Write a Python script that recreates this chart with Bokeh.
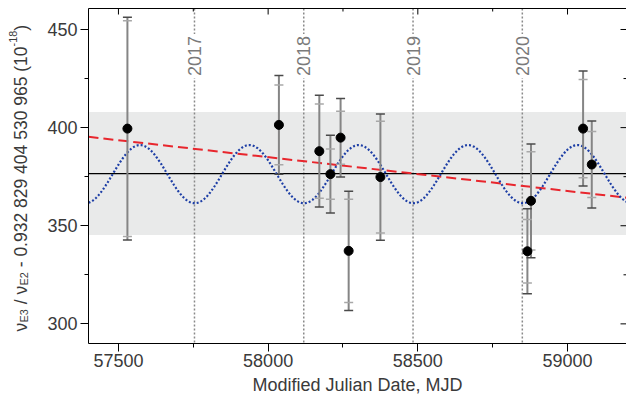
import numpy as np
from bokeh.plotting import figure
from bokeh.layouts import row
from bokeh.models import (Range1d, LinearAxis, FixedTicker, Label, Span,
                          BoxAnnotation, ColumnDataSource)
from bokeh.core.properties import value
from bokeh.embed import file_html
from bokeh.resources import INLINE

# ---------------- data ----------------
mjd = [57530, 58036, 58171, 58208, 58242, 58269, 58375, 58866, 58878, 59052, 59081]
ratio = [399.5, 401.4, 388.0, 376.3, 394.9, 337.2, 374.8, 337.0, 362.7, 399.5, 381.2]
err_total = [56.8, 25.2, 28.5, 19.8, 20.0, 30.4, 32.2, 21.6, 29.0, 29.3, 22.2]
err_stat = [55.0, 20.3, 24.0, 12.8, 13.5, 26.3, 28.5, 16.2, 25.0, 25.0, 16.8]

mean_value = 376.6
band_sigma = 31.35

trend_mjd = [57400, 59197]
trend_value = [395.3, 364.3]

# annual sinusoid model (fit curve shown dotted)
sine_center = 376.3
sine_amplitude = 14.8
sine_period = 365.25
sine_trough_mjd = 58120

year_mjd = [57754, 58119, 58484, 58849]
year_labels = ["2017", "2018", "2019", "2020"]

x_ticks = [57500, 58000, 58500, 59000]
x_minor = [57750, 58250, 58750]
y_ticks = [300, 350, 400, 450]
y_minor = [325, 375, 425]

# y-axis title pieces
ylabel_pieces = ["ν", "E3", "/", "ν", "E2", "- 0.932 829 404 530 965 (10", "-18", ")"]

# ---------------- layout constants ----------------
FONT = "Liberation Sans"
TXT = "#3a3a3a"
X0, X1 = 57400, 59197
Y0, Y1 = 290, 460.7
W, H = 626, 401
LW = 44                      # width of the strip holding the y title
BT, BB = 8, 58               # top / bottom borders (shared by both figures)
BL = 86 - LW                 # main figure left border
PX_Y = (H - BT - BB) / (Y1 - Y0)   # pixels per y unit

# ---------------- y title strip ----------------
FS = 17.5
scales = [1.0, 0.62, 1.0, 1.0, 0.62, 1.0, 0.62, 1.0]
shifts = [0.0, -0.22, 0.0, 0.0, -0.22, 0.0, 0.42, 0.0]
gaps = [0.0, 0.278, 0.278, 0.0, 0.278, 0.0, 0.0, 0.0]
adv = {"ν": 0.52, "E": 0.667, " ": 0.278, "/": 0.278, "-": 0.333, ".": 0.278,
       "(": 0.333, ")": 0.333}


def text_width(s, fs):
    return sum(adv.get(c, 0.556) for c in s) * fs


lx, ly, lsize = [], [], []
pos = 12.0             # title starts 12 px above the frame bottom
for txt, sc, sh, gp in zip(ylabel_pieces, scales, shifts, gaps):
    fs = FS * sc
    lx.append(20 - sh * FS)
    ly.append(Y0 + pos / PX_Y)
    lsize.append(f"{fs:.1f}px")
    pos += text_width(txt, fs) + gp * FS

ylab = figure(width=LW, height=H, output_backend="svg", toolbar_location=None,
              x_range=Range1d(0, LW), y_range=Range1d(Y0, Y1),
              x_axis_location=None, y_axis_location=None,
              min_border_left=0, min_border_right=0,
              min_border_top=BT, min_border_bottom=BB)
ylab.outline_line_color = None
ylab.grid.visible = False
ylab.background_fill_color = "white"
ylab.border_fill_color = "white"
ylab.text(x="x", y="y", text="t", text_font_size="fs",
          source=ColumnDataSource(dict(x=lx, y=ly, t=ylabel_pieces, fs=lsize)),
          angle=np.pi / 2, text_align="left", text_baseline="alphabetic",
          text_font=value(FONT), text_color=TXT)

# ---------------- main figure ----------------
p = figure(width=W - LW, height=H, output_backend="svg", toolbar_location=None,
           x_range=Range1d(X0, X1), y_range=Range1d(Y0, Y1),
           min_border_left=BL, min_border_right=0, min_border_top=BT,
           min_border_bottom=BB)
p.outline_line_color = None
p.xgrid.visible = False
p.ygrid.visible = False
p.background_fill_color = "white"
p.border_fill_color = "white"


def style_axis(ax, ticks, minor):
    ax.ticker = FixedTicker(ticks=ticks, minor_ticks=minor)
    ax.axis_line_color = "black"
    ax.axis_line_width = 1
    ax.major_tick_line_color = "black"
    ax.minor_tick_line_color = "black"
    ax.major_tick_in, ax.major_tick_out = 0, 8
    ax.minor_tick_in, ax.minor_tick_out = 0, 4
    ax.major_label_text_font = FONT
    ax.major_label_text_font_size = "18px"
    ax.major_label_text_color = TXT


xa = p.xaxis[0]
style_axis(xa, x_ticks, x_minor)
xa.major_label_standoff = 2
xa.axis_label = "Modified Julian Date, MJD"
xa.axis_label_text_font = FONT
xa.axis_label_text_font_size = "18px"
xa.axis_label_text_font_style = "normal"
xa.axis_label_text_color = TXT
xa.axis_label_standoff = 5

ya = p.yaxis[0]
style_axis(ya, y_ticks, y_minor)
ya.major_label_standoff = 3

# top frame line (no ticks / labels on the axis itself)
top = LinearAxis(ticker=FixedTicker(ticks=[]))
top.axis_line_color = "black"
top.major_tick_out = 0
top.major_tick_in = 0
top.minor_tick_out = 0
top.minor_tick_in = 0
top.major_label_standoff = 0
p.add_layout(top, "above")

# ---------------- background elements ----------------
p.add_layout(BoxAnnotation(bottom=mean_value - band_sigma, top=mean_value + band_sigma,
                           fill_color="#e9eaea", fill_alpha=1.0, line_color=None,
                           level="underlay"))
for yr in year_mjd:
    p.add_layout(Span(location=yr, dimension="height", line_color="#8a8a8a",
                      line_width=1.5, line_dash="2 2", level="underlay"))
p.add_layout(Span(location=mean_value, dimension="width", line_color="black",
                  line_width=1.2, level="underlay"))

# inward ticks on top and right edges (half of each dash lies inside the frame)
p.scatter(x=x_ticks, y=[Y1] * len(x_ticks), marker="dash", angle=np.pi / 2,
          size=12, line_color="black", line_width=1)
p.scatter(x=x_minor, y=[Y1] * len(x_minor), marker="dash", angle=np.pi / 2,
          size=6, line_color="black", line_width=1)
p.scatter(x=[X1] * len(y_ticks), y=y_ticks, marker="dash",
          size=12, line_color="black", line_width=1)
p.scatter(x=[X1] * len(y_minor), y=y_minor, marker="dash",
          size=6, line_color="black", line_width=1)

# ---------------- model curves ----------------
p.line(trend_mjd, trend_value, line_color="#e8262d", line_width=2, line_dash="10 5")

xs = np.linspace(X0, X1, 700)
ys = sine_center - sine_amplitude * np.cos(2 * np.pi * (xs - sine_trough_mjd) / sine_period)
p.line(xs, ys, line_color="#1e3fa6", line_width=2.2, line_dash="2 2")

# ---------------- data with error bars ----------------
src = ColumnDataSource(dict(
    x=mjd, y=ratio,
    lo_t=[v - e for v, e in zip(ratio, err_total)],
    hi_t=[v + e for v, e in zip(ratio, err_total)],
    lo_s=[v - e for v, e in zip(ratio, err_stat)],
    hi_s=[v + e for v, e in zip(ratio, err_stat)],
))
p.segment(x0="x", y0="lo_t", x1="x", y1="hi_t", source=src,
          line_color="#858585", line_width=2)
for col in ("lo_t", "hi_t"):
    p.scatter(x="x", y=col, source=src, marker="dash", size=9,
              line_color="#4a4a4a", line_width=1.5)
for col in ("lo_s", "hi_s"):
    p.scatter(x="x", y=col, source=src, marker="dash", size=9,
              line_color="#a8a8a8", line_width=1.5)
p.scatter(x="x", y="y", source=src, size=9, fill_color="black", line_color="black")

# ---------------- year labels ----------------
for yr, lab in zip(year_mjd, year_labels):
    p.add_layout(Label(x=yr, y=425.3, text=lab, angle=np.pi / 2,
                       text_align="left", text_baseline="middle",
                       text_font=FONT, text_font_size="18px", text_color="#7a7a7a",
                       background_fill_color="white", padding=2))

layout = row(ylab, p, spacing=0)
open("out.html", "w").write(file_html(layout, INLINE))
